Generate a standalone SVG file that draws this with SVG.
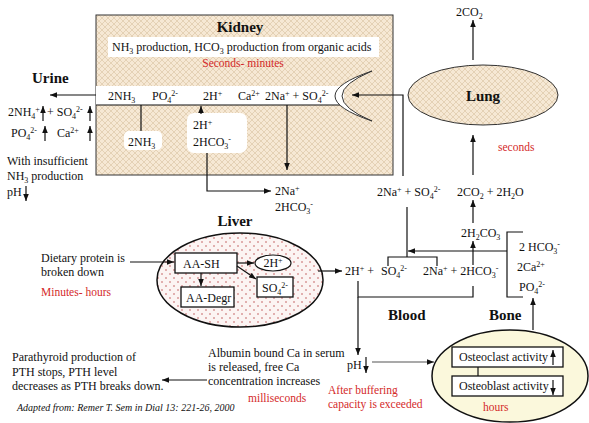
<svg xmlns="http://www.w3.org/2000/svg" width="589" height="423" viewBox="0 0 589 423">
<style>
text{font-family:"Liberation Serif","Times New Roman",serif;font-size:12px;fill:#111}
.b{font-weight:bold;font-size:15px}
.red{fill:#d42a2a;font-size:11.5px}
.it{font-style:italic;font-size:10px}
.sb{font-size:8px;baseline-shift:-3px}
.sp{font-size:8px;baseline-shift:4px}
.ln{fill:none;stroke:#111;stroke-width:1.2}
.ar{fill:none;stroke:#111;stroke-width:1.2;marker-end:url(#ah)}
.box{fill:#fff;stroke:#111;stroke-width:1.3}
</style>
<defs>
<marker id="ah" viewBox="0 0 10 10" refX="10" refY="5" markerWidth="7" markerHeight="7" markerUnits="userSpaceOnUse" orient="auto"><path d="M0,1 L10,5 L0,9 z" fill="#111"/></marker>
<pattern id="kp" width="6" height="6" patternUnits="userSpaceOnUse"><rect width="6" height="6" fill="#f6e8d4"/><path d="M0,0 L6,6 M6,0 L0,6" stroke="#e0cbad" stroke-width="0.8"/></pattern>
<pattern id="lp" width="8" height="8" patternUnits="userSpaceOnUse"><rect width="8" height="8" fill="#fcf4f3"/><circle cx="2" cy="2" r="0.8" fill="#c05858"/><circle cx="6" cy="6" r="0.8" fill="#c05858"/></pattern>
</defs>

<g id="kidney">
<rect x="96" y="15" width="297" height="160" fill="url(#kp)" stroke="#333" stroke-width="1"/>
<text x="240" y="32" class="b" text-anchor="middle">Kidney</text>
<rect x="108" y="37" width="271" height="20" fill="#fff"/>
<text x="112" y="51">NH<tspan class="sb">3</tspan> production, HCO<tspan class="sb">3</tspan> production from organic acids</text>
<text x="243" y="67" class="red" text-anchor="middle">Seconds- minutes</text>
<rect x="96" y="86" width="248" height="19" fill="#fff"/>
<path class="ln" d="M96,105 H340"/>
<path d="M372,71 Q298,96 372,121 Q312,96 372,71 Z" fill="#fff" stroke="#333" stroke-width="1"/>
<text x="108" y="100">2NH<tspan class="sb">3</tspan></text>
<text x="152" y="100">PO<tspan class="sb">4</tspan><tspan class="sp">2-</tspan></text>
<text x="203" y="100">2H<tspan class="sp">+</tspan></text>
<text x="238" y="100">Ca<tspan class="sp">2+</tspan></text>
<text x="265" y="100">2Na<tspan class="sp">+</tspan> + SO<tspan class="sb">4</tspan><tspan class="sp">2-</tspan></text>
<rect x="124" y="131" width="38" height="19" rx="5" fill="#fff"/>
<text x="128" y="146">2NH<tspan class="sb">3</tspan></text>
<rect x="187" y="113" width="60" height="40" rx="7" fill="#fff"/>
<text x="193" y="129">2H<tspan class="sp">+</tspan></text>
<text x="193" y="146">2HCO<tspan class="sb">3</tspan><tspan class="sp">-</tspan></text>
</g>

<g id="urine">
<text x="32" y="83" class="b">Urine</text>
<text x="8" y="116">2NH<tspan class="sb">4</tspan><tspan class="sp">+</tspan></text>
<text x="47" y="116">+ SO<tspan class="sb">4</tspan><tspan class="sp">2-</tspan></text>
<text x="11" y="137">PO<tspan class="sb">4</tspan><tspan class="sp">2-</tspan></text>
<text x="57" y="137">Ca<tspan class="sp">2+</tspan></text>
<text x="7" y="165">With insufficient</text>
<text x="7" y="180">NH<tspan class="sb">3</tspan> production</text>
<text x="7" y="196">pH</text>
</g>

<g id="liver">
<text x="235" y="226" class="b" text-anchor="middle">Liver</text>
<ellipse cx="240" cy="280" rx="83" ry="47" fill="url(#lp)" stroke="#111" stroke-width="1.5"/>
<rect class="box" x="175" y="253" width="62" height="20"/>
<text x="183" y="268">AA-SH</text>
<rect class="box" x="181" y="287" width="53" height="20"/>
<text x="186" y="302">AA-Degr</text>
<ellipse cx="273" cy="263" rx="18" ry="8" fill="#fff" stroke="#111" stroke-width="1.2"/>
<text x="273" y="267" text-anchor="middle">2H<tspan class="sp">+</tspan></text>
<rect class="box" x="257" y="277" width="36" height="20"/>
<text x="262" y="292">SO<tspan class="sb">4</tspan><tspan class="sp">2-</tspan></text>
</g>

<g id="diet">
<text x="41" y="262">Dietary protein is</text>
<text x="41" y="276">broken down</text>
<text x="41" y="296" class="red">Minutes- hours</text>
</g>

<g id="lung">
<ellipse cx="483" cy="95" rx="75" ry="30" fill="url(#kp)" stroke="#333" stroke-width="1"/>
<text x="483" y="101" class="b" text-anchor="middle">Lung</text>
<text x="456" y="16">2CO<tspan class="sb">2</tspan></text>
<text x="498" y="151" class="red">seconds</text>
</g>

<g id="blood">
<text x="275" y="195">2Na<tspan class="sp">+</tspan></text>
<text x="275" y="211">2HCO<tspan class="sb">3</tspan><tspan class="sp">-</tspan></text>
<text x="377" y="196">2Na<tspan class="sp">+</tspan> + SO<tspan class="sb">4</tspan><tspan class="sp">2-</tspan></text>
<text x="457" y="196">2CO<tspan class="sb">2</tspan> + 2H<tspan class="sb">2</tspan>O</text>
<text x="461" y="237">2H<tspan class="sb">2</tspan>CO<tspan class="sb">3</tspan></text>
<text x="345" y="275">2H<tspan class="sp">+</tspan> +</text>
<text x="381" y="275">SO<tspan class="sb">4</tspan><tspan class="sp">2-</tspan></text>
<text x="423" y="275">2Na<tspan class="sp">+</tspan> + 2HCO<tspan class="sb">3</tspan><tspan class="sp">-</tspan></text>
<text x="388" y="320" class="b">Blood</text>
<text x="347" y="369">pH</text>
<text x="328" y="394" class="red">After buffering</text>
<text x="328" y="408" class="red">capacity is exceeded</text>
</g>

<g id="bone">
<text x="519" y="251">2 HCO<tspan class="sb">3</tspan><tspan class="sp">-</tspan></text>
<text x="517" y="271">2Ca<tspan class="sp">2+</tspan></text>
<text x="519" y="291">PO<tspan class="sb">4</tspan><tspan class="sp">2-</tspan></text>
<text x="489" y="320" class="b">Bone</text>
<ellipse cx="510" cy="376" rx="78" ry="46" fill="#fbf8dc" stroke="#111" stroke-width="1.5"/>
<rect class="box" x="452" y="347" width="111" height="20"/>
<text x="459" y="361">Osteoclast activity</text>
<rect class="box" x="452" y="376" width="111" height="20"/>
<text x="459" y="390">Osteoblast activity</text>
<text x="483" y="411" class="red">hours</text>
</g>

<g id="serum">
<text x="208" y="357">Albumin bound Ca in serum</text>
<text x="208" y="371">is released, free Ca</text>
<text x="208" y="385">concentration increases</text>
<text x="248" y="402" class="red">milliseconds</text>
</g>

<g id="pth">
<text x="12" y="361">Parathyroid production of</text>
<text x="12" y="376">PTH stops, PTH level</text>
<text x="12" y="390">decreases as PTH breaks down.</text>
<text x="17" y="411" class="it">Adapted from: Remer T. Sem in Dial 13: 221-26, 2000</text>
</g>

<g id="connectors">
<path class="ar" d="M96,95 H50"/>
<path class="ar" d="M43,121 V106"/>
<path class="ar" d="M90,121 V106"/>
<path class="ar" d="M45,141 V126"/>
<path class="ar" d="M90,141 V126"/>
<path class="ar" d="M26,186 V201"/>
<path class="ln" d="M141,105 V131"/>
<path class="ar" d="M201,114 V106"/>
<path class="ar" d="M207,153 V191 H271"/>
<path class="ar" d="M287,105 V170"/>
<path class="ar" d="M403,176 V95 H352"/>
<path class="ar" d="M473,60 V20"/>
<path class="ar" d="M473,175 V135"/>
<path class="ar" d="M130,262 H174"/>
<path class="ar" d="M237,263 H254"/>
<path class="ar" d="M237,266 L256,279"/>
<path class="ar" d="M201,273 V286"/>
<path class="ar" d="M318,271 H342"/>
<path class="ln" d="M407,207 V257"/>
<path class="ln" d="M388,266 V257 H437 V266"/>
<path class="ar" d="M507,251 H408"/>
<path class="ln" d="M523,232 H507 V297 H523"/>
<path class="ln" d="M358,281 V297 H473 V286"/>
<path class="ar" d="M358,297 V355"/>
<path class="ar" d="M473,265 V241"/>
<path class="ar" d="M473,223 V200"/>
<path class="ar" d="M533,330 V298"/>
<path class="ar" d="M366,357 V373"/>
<path class="ar" d="M372,362 H434" style="stroke:#555"/>
<path class="ar" d="M207,380 H162"/>
<path class="ln" d="M478,367 V376"/>
<path class="ar" d="M553,365 V350"/>
<path class="ar" d="M553,380 V395"/>
</g>
</svg>
